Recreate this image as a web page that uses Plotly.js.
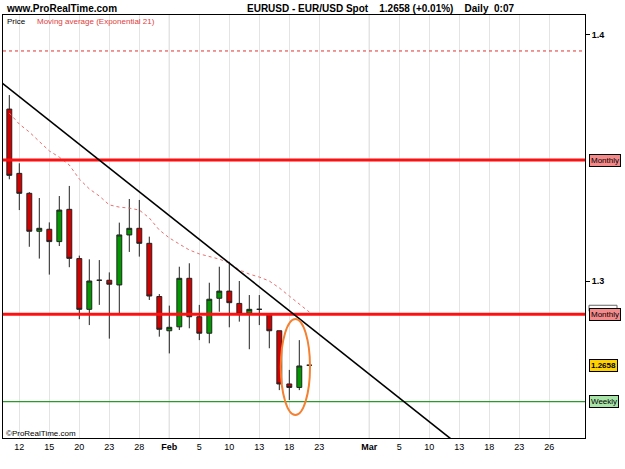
<!DOCTYPE html>
<html><head><meta charset="utf-8">
<script src="https://cdn.plot.ly/plotly-3.0.1.min.js"></script>
<style>html,body{margin:0;padding:0;background:#fff}#chart{width:625px;height:469px}</style>
</head><body><div id="chart"></div>
<script>
const dates = ['2009-01-09','2009-01-12','2009-01-13','2009-01-14','2009-01-15','2009-01-16','2009-01-19','2009-01-20','2009-01-21','2009-01-22','2009-01-23','2009-01-26','2009-01-27','2009-01-28','2009-01-29','2009-01-30','2009-02-02','2009-02-03','2009-02-04','2009-02-05','2009-02-06','2009-02-09','2009-02-10','2009-02-11','2009-02-12','2009-02-13','2009-02-16','2009-02-17','2009-02-18','2009-02-19','2009-02-20'];
const open  = [1.3698,1.3437,1.3356,1.3202,1.3210,1.3160,1.3291,1.3091,1.2885,1.3003,1.3003,1.2984,1.3187,1.3214,1.3153,1.2937,1.2798,1.2814,1.3011,1.2855,1.2788,1.2930,1.2959,1.2909,1.2869,1.2885,1.2862,1.2798,1.2582,1.2568,1.2658];
const high  = [1.3755,1.3478,1.3361,1.3337,1.3238,1.3345,1.3386,1.3103,1.3088,1.3085,1.3035,1.3237,1.3333,1.3329,1.3180,1.2947,1.2900,1.3058,1.3072,1.2903,1.2993,1.3058,1.3078,1.3000,1.2943,1.2943,1.2862,1.2798,1.2639,1.2760,1.2658];
const low   = [1.3413,1.3288,1.3139,1.3091,1.3026,1.3142,1.3056,1.2845,1.2821,1.2903,1.2766,1.2866,1.3118,1.3099,1.2923,1.2774,1.2706,1.2801,1.2808,1.2760,1.2747,1.2875,1.2812,1.2835,1.2723,1.2821,1.2727,1.2557,1.2517,1.2557,1.2658];
const close = [1.3429,1.3356,1.3202,1.3214,1.3160,1.3288,1.3092,1.2885,1.3000,1.3003,1.2987,1.3187,1.3214,1.3153,1.2939,1.2804,1.2812,1.3011,1.2855,1.2788,1.2926,1.2959,1.2912,1.2866,1.2885,1.2885,1.2798,1.2582,1.2568,1.2655,1.2658];
const ema21 = [1.3682,1.3637,1.3605,1.3568,1.3528,1.3503,1.3471,1.3414,1.3374,1.3345,1.3309,1.3300,1.3296,1.3288,1.3256,1.3207,1.3175,1.3150,1.3126,1.3110,1.3101,1.3089,1.3073,1.3045,1.3028,1.3016,1.3000,1.2972,1.2939,1.2907,1.2874];

const tickDates  = ['2009-01-12','2009-01-15','2009-01-20','2009-01-23','2009-01-28','2009-02-02','2009-02-05','2009-02-10','2009-02-13','2009-02-18','2009-02-23','2009-03-02','2009-03-05','2009-03-10','2009-03-13','2009-03-18','2009-03-23','2009-03-26'];
const tickLabels = ['12','15','20','23','28','<b>Feb</b>','5','10','13','18','23','<b>Mar</b>','5','10','13','18','23','26'];
const monthStarts = ['2009-02-02','2009-03-02'];

const levelPrices = [1.3934, 1.3491, 1.2865, 1.2510];
const levelNames  = ['', 'Monthly', 'Monthly', 'Weekly'];
const lastPrice = 1.2658;

const trendDates  = ['2009-01-08','2009-03-13'];
const trendPrices = [1.3813, 1.2332];

const circleDates  = ['2009-02-17','2009-02-20'];
const circlePrices = [1.2456, 1.2846];

// trading-day index (weekdays only) relative to 2009-01-12
const BASE = Date.UTC(2009,0,12);
function td(s){
  const p = s.split('-').map(Number);
  const t = Date.UTC(p[0],p[1]-1,p[2]);
  let n = 0, cur = BASE; const step = t >= BASE ? 1 : -1;
  while (cur !== t) { cur += step*86400000; const wd = new Date(cur).getUTCDay(); if (wd !== 0 && wd !== 6) n += step; }
  return n;
}
const xs = dates.map(td);

const FONT = 'Liberation Sans, Arial, sans-serif';

const traces = [
  {type:'scatter', mode:'lines', x: xs, y: ema21, line:{color:'#e87070', width:1, dash:'dot'}, hoverinfo:'skip', showlegend:false},
  {type:'candlestick', x: xs, open, high, low, close,
   increasing:{line:{color:'#222', width:1}, fillcolor:'#009a00'},
   decreasing:{line:{color:'#222', width:1}, fillcolor:'#d40000'},
   whiskerwidth:0, hoverinfo:'skip', showlegend:false}
];

const px = p => (p-3)/582, py = p => (438-p)/423;

const shapes = [];
monthStarts.forEach(d => shapes.push({type:'line', xref:'x', yref:'paper', x0:td(d), x1:td(d), y0:0, y1:1, line:{color:'#bdbdbd', width:1}, layer:'below'}));
shapes.push({type:'line', xref:'paper', yref:'y', x0:0, x1:1, y0:levelPrices[0], y1:levelPrices[0], line:{color:'#e03030', width:1, dash:'dot'}});
shapes.push({type:'line', xref:'paper', yref:'y', x0:0, x1:1, y0:levelPrices[1], y1:levelPrices[1], line:{color:'#ff1010', width:3}});
shapes.push({type:'line', xref:'paper', yref:'y', x0:0, x1:1, y0:levelPrices[2], y1:levelPrices[2], line:{color:'#ff1010', width:3}});
shapes.push({type:'line', xref:'paper', yref:'y', x0:0, x1:1, y0:levelPrices[3], y1:levelPrices[3], line:{color:'#2a9a2a', width:1.3}});
shapes.push({type:'line', xref:'x', yref:'y', x0:td(trendDates[0]), x1:td(trendDates[1]), y0:trendPrices[0], y1:trendPrices[1], line:{color:'#000', width:1.6}});
shapes.push({type:'circle', xref:'x', yref:'y', x0:td(circleDates[0])+0.15, x1:td(circleDates[1])+0.07, y0:circlePrices[0], y1:circlePrices[1], line:{color:'#f58030', width:2}});
// small shadow tag behind the lower "Monthly" label
shapes.push({type:'rect', xref:'paper', yref:'y', x0:px(589), x1:px(617), ysizemode:'pixel', yanchor:levelPrices[2], y0:3, y1:9, line:{color:'#666', width:1}, fillcolor:'#fff'});

const annotations = [
  {xref:'paper', yref:'paper', x:px(4), y:py(8), xanchor:'left', yanchor:'middle', showarrow:false, text:'<b>www.ProRealTime.com</b>', font:{family:FONT, size:10, color:'#000'}},
  {xref:'paper', yref:'paper', x:px(245), y:py(8), xanchor:'left', yanchor:'middle', showarrow:false, text:'<b>EURUSD - EUR/USD Spot&nbsp;&nbsp;&nbsp; 1.2658 (+0.01%)&nbsp;&nbsp;&nbsp; Daily&nbsp; 0:07</b>', font:{family:FONT, size:10, color:'#000'}},
  {xref:'paper', yref:'paper', x:px(5), y:py(21), xanchor:'left', yanchor:'middle', showarrow:false, text:'Price', font:{family:FONT, size:8, color:'#000'}},
  {xref:'paper', yref:'paper', x:px(35), y:py(21), xanchor:'left', yanchor:'middle', showarrow:false, text:'Moving average (Exponential 21)', font:{family:FONT, size:8, color:'#e04040'}},
  {xref:'paper', yref:'paper', x:px(4), y:py(433), xanchor:'left', yanchor:'middle', showarrow:false, text:'©ProRealTime.com', font:{family:FONT, size:8, color:'#000'}},
  {xref:'paper', yref:'y', x:1, xshift:4, y:levelPrices[1], xanchor:'left', yanchor:'middle', showarrow:false, text:levelNames[1], font:{family:FONT, size:8, color:'#000'}, bgcolor:'#f58a8a', bordercolor:'#000', borderwidth:1, borderpad:1},
  {xref:'paper', yref:'y', x:1, xshift:4, y:levelPrices[2], xanchor:'left', yanchor:'middle', showarrow:false, text:levelNames[2], font:{family:FONT, size:8, color:'#000'}, bgcolor:'#f58a8a', bordercolor:'#000', borderwidth:1, borderpad:1},
  {xref:'paper', yref:'y', x:1, xshift:4, y:lastPrice, xanchor:'left', yanchor:'middle', showarrow:false, text:'<b>'+lastPrice.toFixed(4)+'</b>', font:{family:FONT, size:8, color:'#000'}, bgcolor:'#ffd200', bordercolor:'#000', borderwidth:1, borderpad:1},
  {xref:'paper', yref:'y', x:1, xshift:4, y:levelPrices[3], xanchor:'left', yanchor:'middle', showarrow:false, text:levelNames[3], font:{family:FONT, size:8, color:'#000'}, bgcolor:'#a8e4a8', bordercolor:'#000', borderwidth:1, borderpad:1}
];

const layout = {
  width:625, height:469,
  margin:{l:3, r:40, t:15, b:31},
  paper_bgcolor:'#fff', plot_bgcolor:'#fff',
  showlegend:false,
  font:{family:FONT, size:9, color:'#000'},
  xaxis:{type:'linear', range:[-1.63, 56.57], tickvals: tickDates.map(td), ticktext: tickLabels, tickangle:0,
         showgrid:true, gridcolor:'#e4e4e4', gridwidth:1, zeroline:false, showline:true, mirror:true, linecolor:'#000', linewidth:1,
         ticks:'', tickfont:{family:FONT, size:9, color:'#000'}, rangeslider:{visible:false}, fixedrange:true},
  yaxis:{side:'right', range:[1.23626, 1.408], tickvals:[1.3,1.4], ticktext:['<b>1.3</b>','<b>1.4</b>'],
         ticks:'outside', ticklen:4, tickcolor:'#000', showgrid:false, zeroline:false, showline:true, mirror:true,
         linecolor:'#000', linewidth:1, tickfont:{family:FONT, size:9, color:'#000'}, fixedrange:true},
  shapes, annotations
};

Plotly.newPlot('chart', traces, layout, {displayModeBar:false, staticPlot:true});
</script></body></html>
